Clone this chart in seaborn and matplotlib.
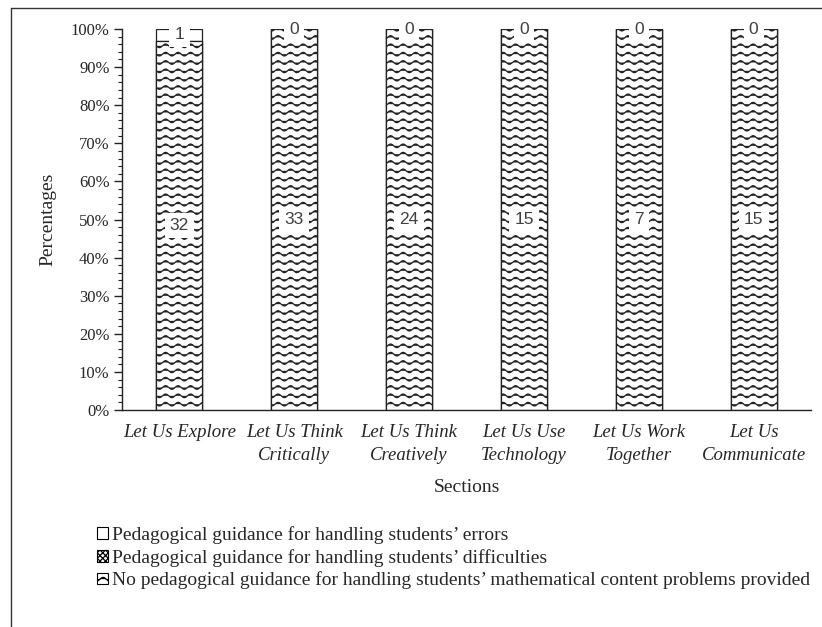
import warnings
warnings.filterwarnings("ignore")
import numpy as np
import pandas as pd
import matplotlib
matplotlib.use("Agg")
import matplotlib.pyplot as plt
import matplotlib.hatch as mhatch
from matplotlib.path import Path
from matplotlib.patches import Patch
from matplotlib.lines import Line2D
from matplotlib.ticker import MultipleLocator, PercentFormatter
import seaborn as sns

# ---------------- data ----------------
sections = ["Let Us Explore", "Let Us Think\nCritically", "Let Us Think\nCreatively",
            "Let Us Use\nTechnology", "Let Us Work\nTogether", "Let Us\nCommunicate"]
errors = [1, 0, 0, 0, 0, 0]
difficulties = [0, 0, 0, 0, 0, 0]
no_guidance = [32, 33, 24, 15, 7, 15]
series_names = ["Pedagogical guidance for handling students\u2019 errors",
                "Pedagogical guidance for handling students\u2019 difficulties",
                "No pedagogical guidance for handling students\u2019 mathematical content problems provided"]


# ---------------- custom wave hatch ----------------
class WaveHatch(mhatch.HatchPatternBase):
    def __init__(self, hatch, density):
        self.num_lines = int(hatch.count('~') * density)
        self.n_pts = 129
        self.num_vertices = self.num_lines * self.n_pts

    def set_vertices_and_codes(self, vertices, codes):
        if self.num_lines == 0:
            return
        steps, stepsize = np.linspace(0.0, 1.0, self.num_lines, False, retstep=True)
        steps += stepsize / 2.0
        x = np.linspace(0.0, 1.0, self.n_pts)
        wave = 0.018 * np.sin(2 * np.pi * 8 * x)
        for i, s in enumerate(steps):
            a = i * self.n_pts
            vertices[a:a + self.n_pts, 0] = x
            vertices[a:a + self.n_pts, 1] = s + wave
            codes[a:a + self.n_pts] = Path.LINETO
            codes[a] = Path.MOVETO


if WaveHatch not in mhatch._hatch_types:
    mhatch._hatch_types.append(WaveHatch)

sns.set_theme(style="white")
plt.rcParams["font.family"] = ["Liberation Serif", "DejaVu Serif"]
plt.rcParams["hatch.linewidth"] = 0.9

err = np.array(errors, float)
dif = np.array(difficulties, float)
non = np.array(no_guidance, float)
tot = err + dif + non
p_err = err / tot * 100
p_dif = dif / tot * 100
p_non = non / tot * 100

df = pd.DataFrame({"section": sections,
                   "top": p_non + p_dif + p_err,
                   "mid": p_non + p_dif,
                   "bot": p_non})

fig = plt.figure(figsize=(8.22, 6.27), dpi=100)
ax = fig.add_axes([122 / 822, 1 - 410 / 627, (811 - 122) / 822, (410 - 29) / 627])

common = dict(x="section", ax=ax, width=0.4, saturation=1, edgecolor="#222222", linewidth=0.9)
sns.barplot(data=df, y="top", color="white", **common)
sns.barplot(data=df, y="mid", color="white", hatch="xxxx", **common)
sns.barplot(data=df, y="bot", color="white", hatch="~~", **common)

# data labels
lab_kw = dict(ha="center", va="center", fontsize=12.5, color="#404040",
              family=["Liberation Sans", "DejaVu Sans"],
              bbox=dict(boxstyle="square,pad=0.3", facecolor="white", edgecolor="none"))
for i in range(len(sections)):
    ax.text(i, p_non[i] / 2, f"{int(non[i])}", **lab_kw)
    ax.text(i, p_non[i] + p_dif[i] + p_err[i] / 2, f"{int(err[i])}", **lab_kw)

ax.set_ylim(0, 100)
ax.set_xlim(-0.5, len(sections) - 0.5)
ax.yaxis.set_major_locator(MultipleLocator(10))
ax.yaxis.set_minor_locator(MultipleLocator(2))
ax.yaxis.set_major_formatter(PercentFormatter(decimals=0))
ax.tick_params(axis="y", which="major", direction="out", length=6, width=1, color="#222222",
               labelsize=12, left=True, pad=3)
ax.tick_params(axis="y", which="minor", direction="out", length=3, width=0.8, color="#222222", left=True)
ax.tick_params(axis="x", length=0, pad=10)
for lab in ax.get_xticklabels():
    lab.set_fontstyle("italic")
    lab.set_fontsize(13.5)
    lab.set_linespacing(1.45)

for s in ["top", "right"]:
    ax.spines[s].set_visible(False)
for s in ["left", "bottom"]:
    ax.spines[s].set_color("#222222")
    ax.spines[s].set_linewidth(1.0)
ax.grid(False)

ax.set_ylabel("Percentages", fontsize=14)
ax.yaxis.set_label_coords(-0.095, 0.5)
ax.set_xlabel("Sections", fontsize=14, va="top")
ax.xaxis.set_label_coords(0.5, -0.18)

handles = [Patch(facecolor="white", edgecolor="black", linewidth=0.8),
           Patch(facecolor="white", edgecolor="black", linewidth=0.8, hatch="xxxxxx"),
           Patch(facecolor="white", edgecolor="black", linewidth=0.8, hatch="~~")]
fig.legend(handles, series_names, loc="upper left", bbox_to_anchor=(97 / 822, 1 - 526 / 627),
           frameon=False, fontsize=14, handlelength=0.55, handleheight=0.55,
           handletextpad=0.2, labelspacing=0.25, borderpad=0, borderaxespad=0)

# outer chart frame
fig.add_artist(Line2D([11 / 822, 11 / 822], [0, 1 - 8 / 627], transform=fig.transFigure,
                      color="#333333", linewidth=1.0))
fig.add_artist(Line2D([11 / 822, 1], [1 - 8 / 627, 1 - 8 / 627], transform=fig.transFigure,
                      color="#333333", linewidth=1.0))

fig.savefig("out.png", dpi=100, facecolor="white")
